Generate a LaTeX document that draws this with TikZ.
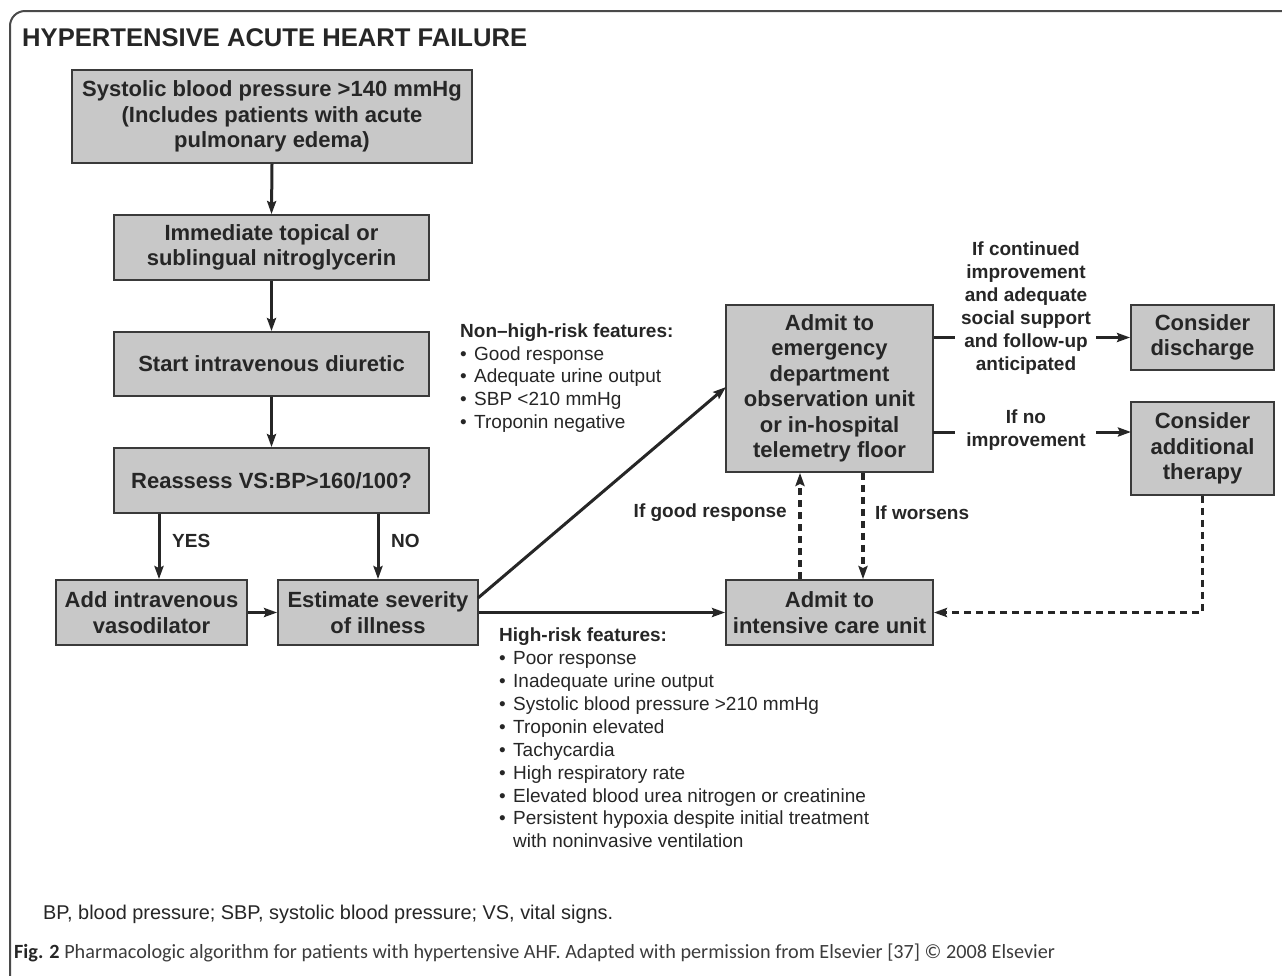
\documentclass[tikz,border=0pt]{standalone}
\usepackage{fontspec}
\setmainfont{Liberation Sans}
\newfontfamily\capfont{Carlito}
\usetikzlibrary{arrows.meta,calc}
\definecolor{boxfill}{HTML}{C8C8C8}
\definecolor{boxline}{HTML}{3A3A3A}
\definecolor{txt}{HTML}{262626}
\definecolor{framec}{HTML}{4A4A4A}
\definecolor{capc}{HTML}{3C3C3C}
\newcommand\blt{\makebox[14pt][l]{•}}
\begin{document}
\begin{tikzpicture}[x=1pt,y=-1pt,
  box/.style={draw=boxline, fill=boxfill, line width=1.8pt, text=txt, align=center, inner sep=0pt, font=\fontsize{22}{25.5}\selectfont\bfseries},
  arr/.style={draw=txt, line width=3pt, -{Stealth[length=13pt,width=9pt,inset=2pt]}},
  ln/.style={draw=txt, line width=3pt},
  dsh/.style={draw=txt, line width=3.2pt, dash pattern=on 7pt off 5pt, -{Stealth[length=13pt,width=9pt,inset=2pt]}},
  lab/.style={text=txt, inner sep=0pt, font=\fontsize{19}{23}\selectfont\bfseries, align=center},
  lst/.style={text=txt, inner sep=0pt, font=\fontsize{19}{22.9}\selectfont, align=left},
]
\useasboundingbox (0,0) rectangle (1282,975);
\fill[white] (0,0) rectangle (1282,975);
% frame
\draw[draw=framec, line width=2pt, rounded corners=15pt] (10,980) -- (10,11) -- (1290,11);
\node[text=txt, inner sep=0pt, anchor=west, font=\fontsize{25.6}{30}\selectfont\bfseries] (title) at (22,38) {HYPERTENSIVE ACUTE HEART FAILURE};

% boxes
\node[box, minimum width=400pt, minimum height=93pt] (b1) at (272,116.5) {Systolic blood pressure >140 mmHg\\(Includes patients with acute\\pulmonary edema)};
\node[box, minimum width=315pt, minimum height=65pt] (b2) at (271.5,247.5) {Immediate topical or\\sublingual nitroglycerin};
\node[box, minimum width=315pt, minimum height=64pt] (b3) at (271.5,364) {Start intravenous diuretic};
\node[box, minimum width=315pt, minimum height=65pt] (b4) at (271.5,480.5) {Reassess VS:BP>160/100?};
\node[box, minimum width=191pt, minimum height=65pt] (b5) at (151.5,612.5) {Add intravenous\\vasodilator};
\node[box, minimum width=200pt, minimum height=65pt] (b6) at (378,612.5) {Estimate severity\\of illness};
\node[box, minimum width=207pt, minimum height=167pt] (b7) at (829.5,388.5) {Admit to\\emergency\\department\\observation unit\\or in-hospital\\telemetry floor};
\node[box, minimum width=207pt, minimum height=65pt] (b8) at (829.5,612.5) {Admit to\\intensive care unit};
\node[box, minimum width=143pt, minimum height=65pt] (b9) at (1202.5,337.5) {Consider\\discharge};
\node[box, minimum width=143pt, minimum height=93pt] (b10) at (1202.5,448.5) {Consider\\additional\\therapy};

% labels
\node[lab, anchor=west] (yes) at (172,541) {YES};
\node[lab, anchor=west] (no) at (391,541) {NO};
\node[lab, anchor=east] (good) at (787,513) {If good response};
\node[lab, anchor=west] (worse) at (875,513) {If worsens};
\node[lab] (cont) at (1026,308) {If continued\\improvement\\and adequate\\social support\\and follow-up\\anticipated};
\node[lab] (noimp) at (1026,430.5) {If no\\improvement};

\node[lst, anchor=west] (nonhigh) at (460,378) {\textbf{Non–high-risk features:}\\\blt Good response\\\blt Adequate urine output\\\blt SBP <210 mmHg\\\blt Troponin negative};
\node[lst, anchor=west] (high) at (499,738) {\textbf{High-risk features:}\\\blt Poor response\\\blt Inadequate urine output\\\blt Systolic blood pressure >210 mmHg\\\blt Troponin elevated\\\blt Tachycardia\\\blt High respiratory rate\\\blt Elevated blood urea nitrogen or creatinine\\\blt Persistent hypoxia despite initial treatment\\\hspace*{14pt}with noninvasive ventilation};

% coordinates
\coordinate (yesx) at (159,0);
\coordinate (diagS) at (478,598);
\coordinate (diagE) at (726,387);
\coordinate (upx) at (800,0);
\coordinate (dnx) at (863,0);
\coordinate (c1a) at (955,337.5);
\coordinate (c1b) at (1096,337.5);
\coordinate (c2a) at (955,432);
\coordinate (c2b) at (1096,432);
\coordinate (c2e) at (1131,432);
\coordinate (c2s) at (933,432);

% connectors
\draw[arr] (b1.south) -- (b2.north);
\draw[arr] (b2.south) -- (b3.north);
\draw[arr] (b3.south) -- (b4.north);
\draw[arr] (b4.south -| yesx) -- (b5.north -| yesx);
\draw[arr] (b4.south -| b6.north) -- (b6.north);
\draw[arr] (b5.east) -- (b6.west);
\draw[arr] (diagS) -- (diagE);
\draw[arr] (b6.east) -- (b8.west);
\draw[dsh] (b8.north -| upx) -- (b7.south -| upx);
\draw[dsh] (b7.south -| dnx) -- (b8.north -| dnx);
\draw[ln] (b7.east |- c1a) -- (c1a);
\draw[arr] (c1b) -- (b9.west);
\draw[ln] (c2s) -- (c2a);
\draw[arr] (c2b) -- (c2e);
\draw[dsh] (b10.south) |- (b8.east);

% footnote and caption
\node[text=txt, inner sep=0pt, anchor=west, font=\fontsize{19.9}{23}\selectfont] (foot) at (43,914) {BP, blood pressure; SBP, systolic blood pressure; VS, vital signs.};
\node[text=capc, inner sep=0pt, anchor=west, font=\capfont\fontsize{20.2}{25}\selectfont] (cap) at (14,953) {\textbf{\color{txt}Fig. 2} Pharmacologic algorithm for patients with hypertensive AHF. Adapted with permission from Elsevier [37] © 2008 Elsevier};
\end{tikzpicture}
\end{document}
